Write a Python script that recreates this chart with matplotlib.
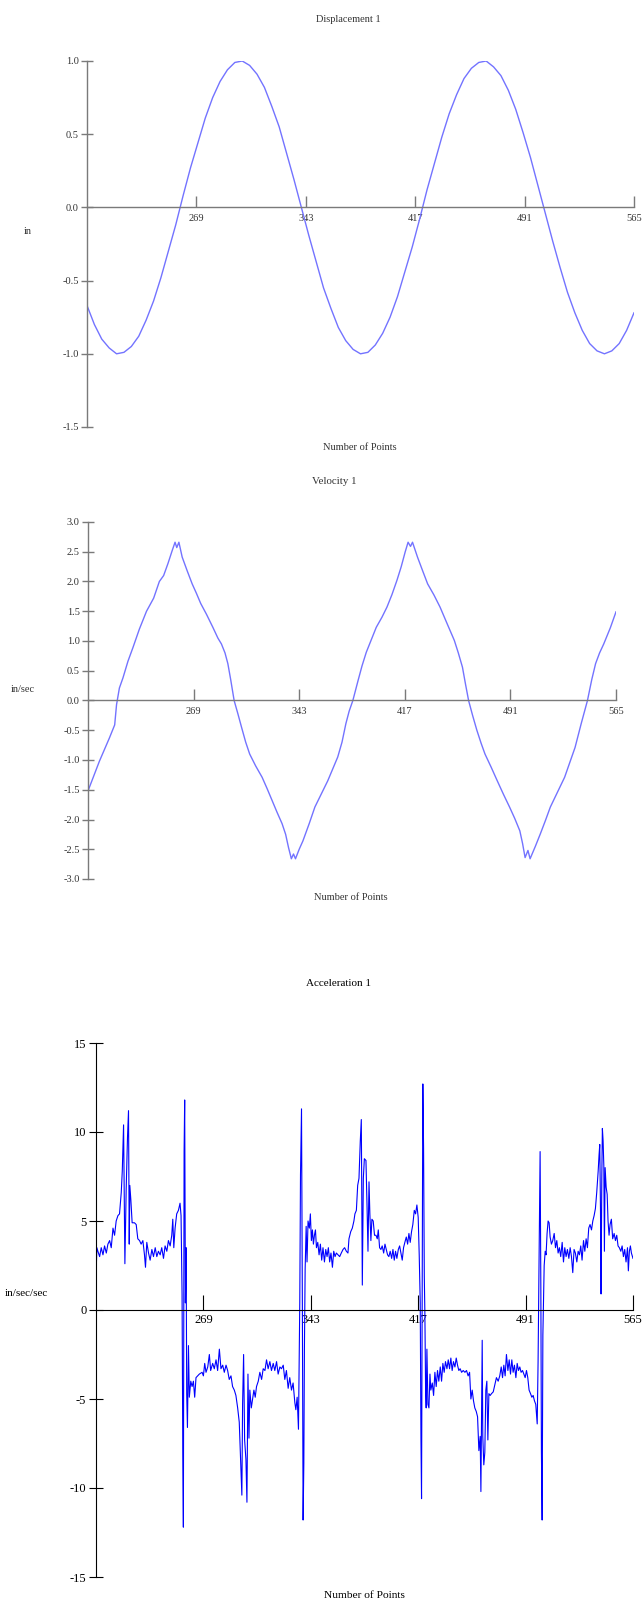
#!/usr/bin/env python3
# Displacement / velocity / acceleration traces, stacked in one tall figure.
import matplotlib
matplotlib.use("Agg")
import matplotlib.pyplot as plt

matplotlib.rcParams['font.family'] = ['Liberation Serif', 'DejaVu Serif']
matplotlib.rcParams['axes.unicode_minus'] = False

W, H = 642, 1613

# point index range shown on every panel
x_min, x_max = 195, 565
x_ticks = [269, 343, 417, 491, 565]

# Displacement 1 (in)
disp_x = [195, 200, 205, 210, 215, 220, 225, 230, 235, 240, 245, 250, 255,
          260, 265, 270, 275, 280, 285, 290, 295, 300, 305, 310, 315, 320,
          325, 330, 335, 340, 345, 350, 355, 360, 365, 370, 375, 380, 385,
          390, 395, 400, 405, 410, 415, 420, 425, 430, 435, 440, 445, 450,
          455, 460, 465, 470, 475, 480, 485, 490, 495, 500, 505, 510, 515,
          520, 525, 530, 535, 540, 545, 550, 555, 560, 565]
disp_y = [-0.67, -0.80, -0.90, -0.96, -1.00, -0.99, -0.95, -0.88, -0.77,
          -0.64, -0.48, -0.30, -0.12, 0.08, 0.27, 0.44, 0.61, 0.75, 0.86,
          0.94, 0.99, 1.00, 0.97, 0.91, 0.82, 0.69, 0.55, 0.37, 0.19, 0.00,
          -0.19, -0.37, -0.55, -0.69, -0.82, -0.91, -0.97, -1.00, -0.99,
          -0.94, -0.86, -0.75, -0.61, -0.44, -0.27, -0.08, 0.12, 0.30, 0.48,
          0.64, 0.77, 0.88, 0.95, 0.99, 1.00, 0.96, 0.90, 0.80, 0.67, 0.51,
          0.34, 0.15, -0.04, -0.23, -0.41, -0.58, -0.72, -0.84, -0.93, -0.98,
          -1.00, -0.98, -0.93, -0.84, -0.72]

# Velocity 1 (in/sec)
vel_x = [195, 203, 210, 213.7, 215, 217, 219.5, 223, 226.5, 231, 236, 241,
         245, 248, 251, 254, 256, 257.2, 258.7, 261, 264.5, 268, 271, 274,
         278, 282.5, 286, 288.5, 291, 293, 295, 297.4, 300, 302.6, 305.5,
         308.3, 312.5, 317, 320.5, 324, 327.5, 331, 333.5, 335.5, 337.5, 339,
         340.4, 343, 345.6, 350, 354, 358.5, 363, 366.5, 370, 373, 375.7, 378,
         380.6, 384.3, 387, 390, 393.5, 397, 401, 404.5, 408, 411.5, 414.5,
         417.3, 419.3, 421, 422.4, 425.9, 429.5, 433, 437.5, 441.7, 446.5,
         451.7, 454.5, 457.4, 459.5, 461.7, 464.5, 467.5, 470.5, 473.2, 477.5,
         481.8, 486, 490.4, 494, 497.6, 499.5, 501.3, 503.3, 504.8, 508.5, 512,
         515.5, 519, 524, 529, 532.5, 536.3, 540.6, 545, 548, 550.7, 553.5,
         556.4, 561, 565]
vel_y = [-1.52, -1.02, -0.63, -0.41, -0.07, 0.21, 0.38, 0.66, 0.89, 1.20,
         1.50, 1.72, 2.00, 2.10, 2.30, 2.52, 2.66, 2.57, 2.66, 2.41, 2.18,
         1.96, 1.80, 1.63, 1.45, 1.23, 1.05, 0.95, 0.80, 0.62, 0.35, 0.00,
         -0.22, -0.45, -0.70, -0.90, -1.10, -1.29, -1.48, -1.68, -1.88, -2.07,
         -2.25, -2.47, -2.66, -2.58, -2.66, -2.50, -2.36, -2.07, -1.79, -1.57,
         -1.35, -1.15, -0.95, -0.70, -0.39, -0.18, 0.00, 0.34, 0.58, 0.81,
         1.02, 1.23, 1.40, 1.57, 1.78, 2.02, 2.25, 2.50, 2.66, 2.59, 2.66,
         2.41, 2.18, 1.96, 1.77, 1.57, 1.30, 1.01, 0.80, 0.56, 0.28, 0.00,
         -0.25, -0.50, -0.72, -0.90, -1.12, -1.35, -1.57, -1.79, -1.98, -2.19,
         -2.40, -2.64, -2.52, -2.66, -2.45, -2.24, -2.02, -1.79, -1.54, -1.29,
         -1.05, -0.79, -0.39, 0.00, 0.35, 0.62, 0.80, 0.95, 1.22, 1.49]

# Acceleration 1 (in/sec/sec)
acc_x = [195.2, 195.6, 196.3, 197.5, 198.6, 199.8, 200.9, 202.1, 203.2, 204.4,
         205.5, 206.7, 207.8, 208.9, 210.1, 211.2, 212.4, 213.1, 214.0, 214.9,
         215.8, 216.7, 217.4, 217.9, 218.3, 219.0, 219.9, 221.5, 222.7, 223.8,
         225.0, 226.1, 227.3, 228.4, 229.1, 230.0, 231.2, 232.3, 233.5, 234.6,
         235.8, 236.9, 238.0, 239.2, 240.3, 241.5, 242.6, 243.8, 244.9, 246.1,
         247.2, 247.9, 248.6, 249.5, 250.6, 251.8, 252.9, 253.6, 254.3, 254.8,
         255.2, 255.7, 256.1, 256.6, 257.1, 257.5, 258.0, 258.7, 259.3, 260.3,
         261.2, 262.1, 263.0, 263.9, 265.1, 266.2, 268.1, 269.0, 269.9, 270.8,
         272.0, 273.1, 274.0, 275.4, 276.5, 277.7, 278.8, 280.0, 281.1, 282.3,
         283.4, 284.6, 285.7, 286.8, 288.0, 289.1, 290.3, 291.4, 292.6, 293.7,
         294.4, 295.1, 295.5, 296.0, 296.7, 297.4, 298.3, 299.0, 299.7, 300.4,
         301.0, 302.0, 302.9, 303.8, 304.7, 305.6, 306.8, 307.9, 309.1, 310.2,
         311.4, 312.5, 313.6, 314.8, 315.9, 317.1, 318.2, 319.4, 320.5, 321.7,
         322.8, 324.0, 325.1, 326.2, 327.4, 328.5, 329.7, 330.8, 332.0, 332.7,
         333.6, 334.5, 335.4, 335.9, 336.6, 337.2, 337.7, 338.2, 338.6, 339.1,
         339.8, 340.4, 341.1, 342.0, 342.7, 343.4, 344.1, 344.8, 345.5, 346.2,
         346.9, 347.8, 348.7, 349.6, 350.5, 351.4, 352.4, 353.3, 354.2, 355.1,
         356.0, 356.9, 357.9, 358.8, 359.7, 360.6, 361.8, 362.9, 364.0, 365.2,
         366.3, 367.5, 368.6, 369.3, 370.5, 371.6, 372.7, 373.4, 374.4, 375.3,
         376.2, 377.1, 377.8, 378.5, 379.2, 379.9, 381.0, 381.7, 382.4, 383.1,
         383.7, 384.4, 385.1, 386.0, 386.9, 387.9, 388.8, 389.5, 390.4, 391.3,
         392.2, 393.2, 394.1, 395.0, 395.9, 396.8, 397.7, 398.7, 399.6, 400.5,
         401.4, 402.3, 403.3, 404.2, 405.1, 406.0, 406.9, 407.8, 408.8, 409.7,
         410.6, 411.5, 412.4, 413.3, 414.3, 415.2, 416.1, 417.0, 417.7, 418.4,
         418.9, 419.3, 419.8, 420.2, 420.7, 421.2, 421.6, 422.1, 422.5, 423.0,
         423.7, 424.4, 425.1, 425.7, 426.7, 427.6, 428.5, 429.4, 430.3, 431.2,
         432.2, 433.1, 434.0, 434.9, 435.8, 436.8, 437.7, 438.6, 439.5, 440.4,
         441.3, 442.3, 443.2, 444.1, 445.0, 445.9, 446.9, 448.0, 449.2, 450.3,
         451.4, 452.4, 453.3, 454.2, 455.1, 456.0, 457.0, 457.9, 458.8, 459.7,
         460.2, 460.6, 461.1, 461.5, 462.2, 462.9, 463.6, 464.3, 465.0, 465.7,
         466.6, 467.5, 468.7, 469.8, 470.9, 472.1, 473.2, 474.2, 475.1, 476.0,
         476.9, 477.8, 478.8, 479.7, 480.6, 481.5, 482.4, 483.3, 484.3, 485.2,
         486.1, 487.0, 487.9, 488.9, 489.8, 490.7, 491.6, 492.5, 493.4, 494.4,
         495.3, 496.2, 497.1, 498.0, 499.0, 499.6, 500.1, 500.6, 501.0, 501.5,
         501.9, 502.4, 502.9, 503.3, 503.8, 504.5, 505.1, 505.8, 506.5, 507.2,
         507.9, 508.8, 509.7, 510.7, 511.6, 512.5, 513.4, 514.3, 515.2, 516.2,
         517.1, 518.0, 518.9, 519.8, 520.8, 521.7, 522.6, 523.5, 524.4, 525.3,
         526.3, 527.2, 528.1, 529.0, 529.9, 530.9, 531.8, 532.7, 533.6, 534.5,
         535.4, 536.4, 537.3, 538.2, 539.1, 540.0, 541.0, 541.6, 542.1, 542.6,
         543.0, 543.5, 543.9, 544.4, 544.9, 545.3, 545.8, 546.5, 547.2, 547.8,
         548.5, 549.2, 550.1, 551.0, 552.0, 552.9, 553.8, 554.7, 555.6, 556.6,
         557.5, 558.4, 559.3, 560.2, 561.2, 561.8, 562.5, 563.2, 563.9, 565.0]
acc_y = [2.4, 3.5, 3.3, 3.0, 3.5, 3.1, 3.6, 3.2, 3.7, 3.9,
         3.5, 4.6, 4.2, 5.0, 5.3, 5.4, 6.6, 7.8, 10.4, 2.6,
         6.8, 9.7, 11.2, 3.7, 7.0, 6.2, 4.9, 4.9, 4.8, 4.0,
         3.9, 3.7, 3.9, 3.1, 2.4, 3.8, 3.2, 2.8, 3.4, 3.0,
         3.5, 3.0, 3.3, 3.1, 3.5, 2.9, 3.6, 3.3, 3.9, 3.6,
         4.2, 5.1, 3.5, 4.6, 5.4, 5.6, 6.0, 5.3, 0.9, -7.9,
         -12.2, 8.9, 11.8, 0.4, 3.5, -4.7, -6.6, -2.0, -4.9, -4.0,
         -4.3, -4.0, -4.9, -3.8, -3.7, -3.6, -3.5, -3.7, -3.0, -3.5,
         -3.2, -2.5, -3.4, -3.0, -3.3, -2.8, -3.4, -2.2, -3.3, -3.1,
         -3.5, -3.1, -3.4, -3.9, -3.7, -4.3, -4.5, -4.8, -5.5, -6.3,
         -7.9, -9.6, -10.4, -5.3, -2.5, -7.3, -8.4, -10.8, -3.6, -7.2,
         -4.5, -5.5, -5.0, -4.5, -4.9, -4.3, -4.0, -3.5, -3.9, -3.3,
         -3.4, -2.8, -3.3, -2.9, -3.4, -3.0, -3.4, -2.9, -3.6, -3.2,
         -3.3, -3.1, -3.9, -3.4, -4.4, -3.8, -4.5, -4.1, -5.2, -5.6,
         -4.9, -6.7, 0.4, 7.6, 11.3, 0.0, -11.8, -8.6, -2.2, 2.3,
         4.7, 2.7, 5.0, 4.6, 5.4, 3.9, 4.5, 3.7, 4.2, 4.5,
         3.5, 3.8, 3.1, 3.7, 2.8, 3.5, 2.7, 3.4, 3.0, 3.5,
         2.7, 3.2, 2.4, 3.3, 3.0, 3.2, 3.1, 3.0, 3.2, 3.4,
         3.5, 3.3, 3.2, 4.0, 4.4, 4.6, 5.0, 5.4, 5.6, 7.0,
         7.4, 9.5, 10.7, 1.4, 7.4, 8.5, 8.4, 6.0, 3.3, 7.2,
         5.4, 3.9, 5.1, 5.0, 4.2, 4.2, 4.0, 4.5, 3.5, 3.4,
         3.6, 3.2, 3.7, 3.4, 3.1, 3.0, 3.3, 2.9, 3.4, 2.8,
         3.3, 2.9, 3.4, 3.6, 3.2, 2.8, 3.5, 3.8, 4.1, 3.7,
         4.3, 3.8, 4.4, 4.8, 5.6, 5.4, 5.9, 5.2, 3.1, 0.4,
         -7.3, -10.6, 1.5, 12.7, 9.1, 1.9, -0.2, -4.5, -5.5, -2.2,
         -5.3, -5.5, -3.6, -4.5, -4.1, -4.8, -3.5, -4.3, -3.4, -4.0,
         -3.2, -4.0, -3.0, -3.5, -2.9, -3.3, -2.8, -3.3, -2.7, -3.4,
         -2.9, -3.2, -2.7, -3.1, -3.4, -3.3, -3.5, -3.4, -3.5, -3.4,
         -3.7, -3.5, -5.0, -4.5, -5.1, -5.5, -5.7, -6.0, -7.9, -7.1,
         -10.2, -6.3, -1.7, -7.1, -8.7, -8.0, -4.5, -4.0, -7.3, -4.7,
         -4.8, -4.7, -4.6, -4.2, -3.8, -4.0, -3.7, -3.2, -3.8, -3.1,
         -3.7, -2.5, -3.4, -2.8, -3.6, -2.8, -3.5, -3.1, -3.8, -3.0,
         -3.4, -3.2, -3.5, -3.4, -3.6, -3.8, -3.4, -3.8, -4.5, -4.7,
         -4.9, -4.8, -5.1, -5.3, -6.4, -2.9, 1.5, 6.3, 8.9, 1.3,
         -8.0, -11.8, -1.4, 0.2, 2.5, 3.3, 3.1, 4.3, 5.0, 4.9,
         4.1, 3.7, 3.9, 4.3, 3.5, 3.9, 3.2, 3.5, 3.0, 3.8,
         2.7, 3.5, 3.0, 3.4, 2.9, 3.5, 3.0, 2.1, 3.4, 3.2,
         2.7, 3.3, 3.1, 3.6, 2.8, 3.9, 3.3, 4.0, 3.5, 4.6,
         4.8, 4.5, 5.0, 5.3, 5.7, 6.6, 7.8, 8.7, 9.3, 5.6,
         0.9, 7.4, 10.2, 9.5, 8.1, 3.3, 8.0, 6.9, 6.5, 5.0,
         4.2, 4.8, 5.1, 4.0, 4.3, 3.9, 4.2, 3.6, 3.5, 3.3,
         3.6, 3.0, 3.4, 2.7, 3.5, 2.2, 3.3, 3.6, 3.2, 2.9]


def px_axes(fig, left, right, top, bottom):
    # axes rectangle given in pixel coords measured from the top-left corner
    return fig.add_axes([left / W, 1 - bottom / H, (right - left) / W, (bottom - top) / H])


def px_text(fig, x, y, s, **kwargs):
    fig.text(x / W, 1 - y / H, s, ha='center', va='center', **kwargs)


def style_axes(ax, yticks, ylabels, axis_color, text_color, fontsize, ylen, xlen, lw, xpad):
    ax.set_xlim(x_min, x_max)
    ax.set_ylim(yticks[-1], yticks[0])
    ax.patch.set_alpha(0)
    for side in ['top', 'right']:
        ax.spines[side].set_visible(False)
    # x axis line crosses at zero, tick marks stand up from it
    ax.spines['bottom'].set_position(('data', 0))
    for side in ['bottom', 'left']:
        ax.spines[side].set_color(axis_color)
        ax.spines[side].set_linewidth(lw)
    ax.set_xticks(x_ticks)
    ax.set_xticklabels([str(t) for t in x_ticks])
    ax.set_yticks(yticks)
    ax.set_yticklabels(ylabels)
    ax.tick_params(axis='x', direction='in', length=xlen, width=lw, color=axis_color,
                   labelsize=fontsize, labelcolor=text_color, pad=xpad)
    ax.tick_params(axis='y', direction='inout', length=ylen, width=lw, color=axis_color,
                   labelsize=fontsize, labelcolor=text_color, pad=2)


fig = plt.figure(figsize=(W / 100, H / 100), dpi=100)

# --- Displacement ---
ax1 = px_axes(fig, 87, 634, 61, 427)
ax1.plot(disp_x, disp_y, color='#7373ff', lw=1.0)
style_axes(ax1, [1.0, 0.5, 0.0, -0.5, -1.0, -1.5],
           ['1.0', '0.5', '0.0', '-0.5', '-1.0', '-1.5'],
           '#7a7a7a', '#333333', 7.5, 8, 8, 1.0, 5)
px_text(fig, 348, 19, 'Displacement 1', fontsize=7.5, color='#333333')
px_text(fig, 360, 448, 'Number of Points', fontsize=7.5, color='#333333')
px_text(fig, 28, 232, 'in', fontsize=7.5, color='#333333')

# --- Velocity ---
ax2 = px_axes(fig, 88, 616, 522, 879)
ax2.plot(vel_x, vel_y, color='#7373ff', lw=1.0)
style_axes(ax2, [3.0, 2.5, 2.0, 1.5, 1.0, 0.5, 0.0, -0.5, -1.0, -1.5, -2.0, -2.5, -3.0],
           ['3.0', '2.5', '2.0', '1.5', '1.0', '0.5', '0.0', '-0.5', '-1.0',
            '-1.5', '-2.0', '-2.5', '-3.0'],
           '#7a7a7a', '#333333', 7.5, 8, 8, 1.0, 5)
px_text(fig, 334, 482, 'Velocity 1', fontsize=7.8, color='#333333')
px_text(fig, 351, 897, 'Number of Points', fontsize=7.5, color='#333333')
px_text(fig, 23, 690, 'in/sec', fontsize=7.5, color='#333333')

# --- Acceleration ---
ax3 = px_axes(fig, 96, 633, 1043, 1577)
ax3.plot(acc_x, acc_y, color='#0000ff', lw=0.8)
style_axes(ax3, [15, 10, 5, 0, -5, -10, -15],
           ['15', '10', '5', '0', '-5', '-10', '-15'],
           'black', 'black', 9, 10, 11, 0.8, 3)
px_text(fig, 339, 983, 'Acceleration 1', fontsize=8, color='black')
px_text(fig, 364, 1595, 'Number of Points', fontsize=8.2, color='black')
px_text(fig, 26, 1294, 'in/sec/sec', fontsize=8, color='black')

fig.savefig('out.png', dpi=100)
